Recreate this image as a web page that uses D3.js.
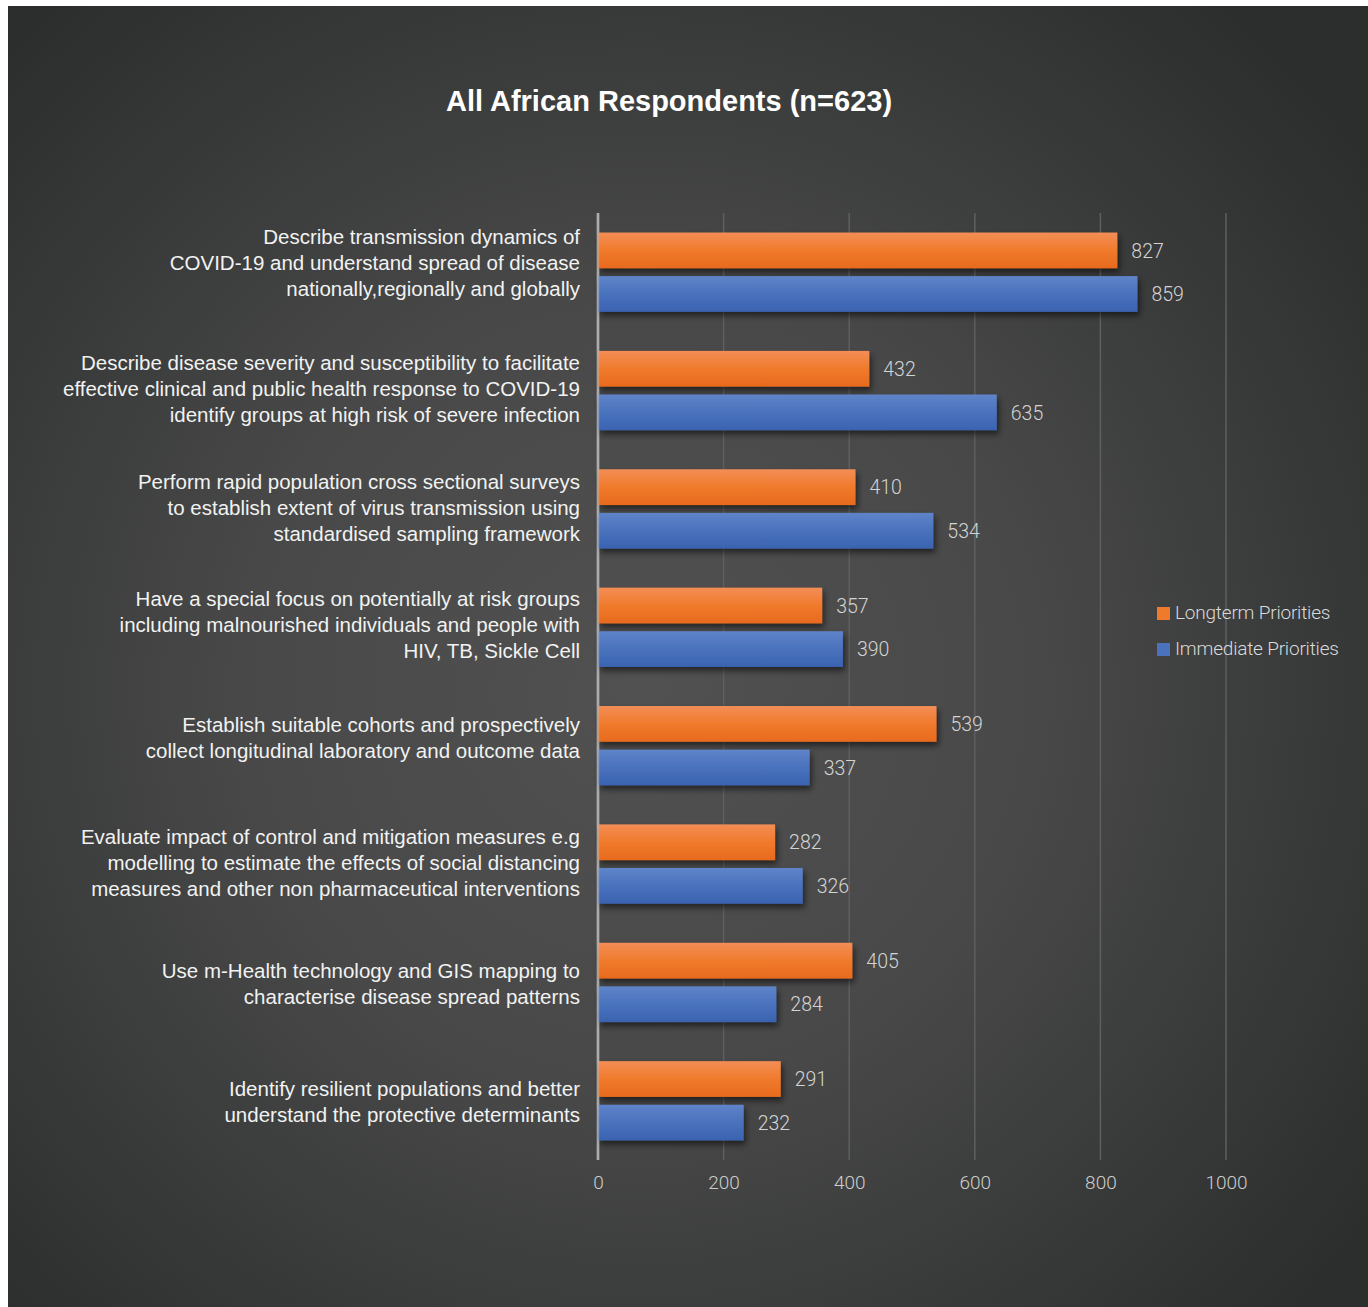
<!DOCTYPE html>
<html>
<head>
<meta charset="utf-8">
<script src="https://cdn.jsdelivr.net/npm/d3@7"></script>
<style>
  html, body { margin: 0; padding: 0; background: #ffffff; }
  svg { display: block; }
</style>
</head>
<body>
<svg id="chart" width="1368" height="1307"></svg>
<script>
// Survey priorities, number of responses per research area
const categories = [
  "Describe transmission dynamics of\nCOVID-19 and understand spread of disease\nnationally,regionally and globally",
  "Describe disease severity and susceptibility to facilitate\neffective clinical and public health response to COVID-19\nidentify groups at high risk of severe infection",
  "Perform rapid population cross sectional surveys\nto establish extent of virus transmission using\nstandardised sampling framework",
  "Have a special focus on potentially at risk groups\nincluding malnourished individuals and people with\nHIV, TB, Sickle Cell",
  "Establish suitable cohorts and prospectively\ncollect longitudinal laboratory and outcome data",
  "Evaluate impact of control and mitigation measures e.g\nmodelling to estimate the effects of social distancing\nmeasures and other non pharmaceutical interventions",
  "Use m-Health technology and GIS mapping to\ncharacterise disease spread patterns",
  "Identify resilient populations and better\nunderstand the protective determinants"
];
const seriesNames = ["Longterm Priorities", "Immediate Priorities"];
const longtermValues = [827, 432, 410, 357, 539, 282, 405, 291];
const immediateValues = [859, 635, 534, 390, 337, 326, 284, 232];
const xTicks = [0, 200, 400, 600, 800, 1000];
const titleText = "All African Respondents (n=623)";

// Vertical fine-tuning of each category label block (px)
const labelShift = [-8, 0, 1, -1, -6, 1, 3, 3];

const svg = d3.select("#chart");
const W = 1368, H = 1307;
const font = "'Liberation Sans', Arial, Helvetica, sans-serif";
const lightFont = "Roboto, 'Liberation Sans', Arial, sans-serif";

const defs = svg.append("defs");

// Radial background shading
const bg = defs.append("radialGradient").attr("id", "bgGrad")
  .attr("gradientUnits", "userSpaceOnUse")
  .attr("cx", 640).attr("cy", 690).attr("r", 900);
bg.append("stop").attr("offset", "0%").attr("stop-color", "#505150");
bg.append("stop").attr("offset", "45%").attr("stop-color", "#474847");
bg.append("stop").attr("offset", "100%").attr("stop-color", "#2c2e2e");

// Bar gradients
const gOrange = defs.append("linearGradient").attr("id", "gradLong")
  .attr("x1", 0).attr("y1", 0).attr("x2", 0).attr("y2", 1);
gOrange.append("stop").attr("offset", "0%").attr("stop-color", "#f38e56");
gOrange.append("stop").attr("offset", "50%").attr("stop-color", "#f07a2c");
gOrange.append("stop").attr("offset", "100%").attr("stop-color", "#e86a1e");

const gBlue = defs.append("linearGradient").attr("id", "gradImm")
  .attr("x1", 0).attr("y1", 0).attr("x2", 0).attr("y2", 1);
gBlue.append("stop").attr("offset", "0%").attr("stop-color", "#5f84c9");
gBlue.append("stop").attr("offset", "50%").attr("stop-color", "#4a72bd");
gBlue.append("stop").attr("offset", "100%").attr("stop-color", "#3a63b0");

const shadow = defs.append("filter").attr("id", "barShadow")
  .attr("x", "-5%").attr("y", "-20%").attr("width", "115%").attr("height", "160%");
shadow.append("feDropShadow").attr("dx", 2).attr("dy", 4)
  .attr("stdDeviation", 3).attr("flood-color", "#000").attr("flood-opacity", 0.55);

svg.append("rect").attr("x", 8).attr("y", 6).attr("width", W - 8).attr("height", H - 6)
  .attr("fill", "url(#bgGrad)");

// Title
svg.append("text")
  .attr("x", 669).attr("y", 103)
  .attr("text-anchor", "middle").attr("dominant-baseline", "middle")
  .attr("font-family", font).attr("font-weight", "bold").attr("font-size", 29)
  .attr("fill", "#ffffff")
  .text(titleText);

// Scales
const plotTop = 213, plotBottom = 1160;
const x = d3.scaleLinear().domain([0, 1000]).range([598, 1226]);
const y0 = d3.scaleBand().domain(d3.range(categories.length))
  .range([plotTop, plotBottom]).paddingInner(0.33).paddingOuter(0.165);
const y1 = d3.scaleBand().domain(seriesNames)
  .range([0, y0.bandwidth()]).paddingInner(0.18);

// Vertical gridlines
const grid = svg.append("g");
grid.selectAll("line").data(xTicks).join("line")
  .attr("x1", d => x(d)).attr("x2", d => x(d))
  .attr("y1", plotTop).attr("y2", plotBottom)
  .attr("stroke", d => d === 0 ? "#a0a0a0" : "#5e5f5f")
  .attr("stroke-width", d => d === 0 ? 2.5 : 1.5);

// X axis tick labels
const xAxis = d3.axisBottom(x).tickValues(xTicks).tickSize(0).tickPadding(0).tickFormat(d3.format("d"));
const axisG = svg.append("g").attr("transform", `translate(0, ${plotBottom + 15})`).call(xAxis);
axisG.select(".domain").remove();
axisG.selectAll("text")
  .attr("font-family", lightFont).attr("font-weight", 300).attr("font-size", 19).attr("fill", "#cdcdcd")
  .attr("dy", "0.71em");

// Bars
const rows = categories.map((c, i) => ({
  i,
  values: [
    { key: seriesNames[0], value: longtermValues[i], fill: "url(#gradLong)" },
    { key: seriesNames[1], value: immediateValues[i], fill: "url(#gradImm)" }
  ]
}));

const groups = svg.append("g").selectAll("g").data(rows).join("g")
  .attr("transform", d => `translate(0, ${y0(d.i)})`);

groups.selectAll("rect").data(d => d.values).join("rect")
  .attr("x", x(0))
  .attr("y", d => y1(d.key))
  .attr("width", d => x(d.value) - x(0))
  .attr("height", y1.bandwidth())
  .attr("fill", d => d.fill)
  .attr("filter", "url(#barShadow)");

groups.selectAll("text.val").data(d => d.values).join("text")
  .attr("class", "val")
  .attr("x", d => x(d.value) + 14)
  .attr("y", d => y1(d.key) + y1.bandwidth() / 2 + 2)
  .attr("dominant-baseline", "middle")
  .attr("font-family", lightFont).attr("font-weight", 300).attr("font-size", 19.5).attr("fill", "#d4d4d4")
  .text(d => d.value);

// Zero line redrawn over bars
svg.append("line")
  .attr("x1", x(0)).attr("x2", x(0)).attr("y1", plotTop).attr("y2", plotBottom)
  .attr("stroke", "#b4b4b4").attr("stroke-opacity", 0.6).attr("stroke-width", 2.5);

// Category labels
const lineH = 26;
const catG = svg.append("g");
categories.forEach((c, i) => {
  const lines = c.split("\n");
  const cy = y0(i) + y0.bandwidth() / 2 + labelShift[i];
  const t = catG.append("text")
    .attr("text-anchor", "end")
    .attr("font-family", font).attr("font-size", 20.5).attr("fill", "#f2f2f2");
  lines.forEach((ln, k) => {
    t.append("tspan")
      .attr("x", 580)
      .attr("y", cy + (k - (lines.length - 1) / 2) * lineH)
      .attr("dominant-baseline", "middle")
      .text(ln);
  });
});

// Legend
const legend = svg.append("g");
const legendItems = [
  { name: seriesNames[0], fill: "#f07a2c" },
  { name: seriesNames[1], fill: "#4a72bd" }
];
legendItems.forEach((d, k) => {
  const ly = 607 + k * 36;
  legend.append("rect").attr("x", 1157).attr("y", ly).attr("width", 13).attr("height", 13)
    .attr("fill", d.fill);
  legend.append("text").attr("x", 1175).attr("y", ly + 7)
    .attr("dominant-baseline", "middle")
    .attr("font-family", lightFont).attr("font-weight", 300).attr("font-size", 19).attr("fill", "#dadada")
    .attr("letter-spacing", -0.2)
    .text(d.name);
});
</script>
</body>
</html>
